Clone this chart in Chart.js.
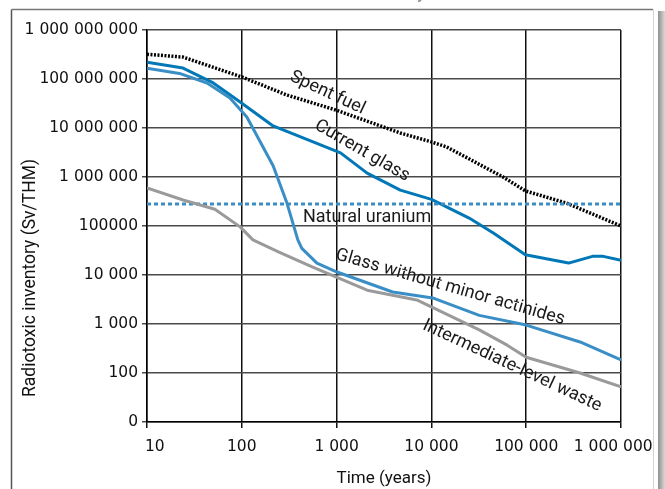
<!DOCTYPE html>
<html><head><meta charset="utf-8">
<script src="https://cdn.jsdelivr.net/npm/chart.js@4.4.0/dist/chart.umd.min.js"></script>
<style>html,body{margin:0;padding:0;background:#fff;}#wrap{position:relative;width:665px;height:489px;}</style>
</head><body><div id="wrap"><canvas id="c" width="665" height="489"></canvas></div>
<script>
const xTicks=[10,100,1000,10000,100000,1000000];
const xTickLabels=['\u2002\u200210','100','1 000','10 000','100 000','1 000 000\u2002\u2002'];
const yTicks=[10,100,1e3,1e4,1e5,1e6,1e7,1e8,1e9];
const yTickLabels=['0','100','1 000','10 000','100000','1 000 000','10 000 000','100 000 000','1 000 000 000'];

const spentT=[10,24,100,300,1000,4700,10000,14500,57000,98000,270000,1000000];
const spentV=[3.2e8,2.8e8,1.1e8,4.7e7,2.3e7,7.9e6,5.2e6,4.1e6,1e6,5.2e5,2.9e5,1e5];

const glassT=[10,24,50,96,214,565,1100,2100,4700,10000,25000,45000,98000,280000,500000,650000,1000000];
const glassV=[2.2e8,1.67e8,8.3e7,3.4e7,1.1e7,5.2e6,3.1e6,1.2e6,5.4e5,3.5e5,1.45e5,7.2e4,2.6e4,1.75e4,2.4e4,2.4e4,2.0e4];

const noMaT=[10,22,43,75,113,214,300,390,430,620,1010,3900,10300,32000,100000,370000,1000000];
const noMaV=[1.66e8,1.3e8,8.3e7,4.1e7,1.67e7,1.7e6,2.9e5,5.2e4,3.5e4,1.75e4,1.15e4,4500,3400,1500,950,430,185];

const ilwT=[10,24,52,96,131,250,560,2100,7000,32000,63000,100000,370000,1000000];
const ilwV=[6e5,3.4e5,2.2e5,9.6e4,5.2e4,2.9e4,1.45e4,4900,3100,760,370,210,100,52];

const uraniumT=[10,1000000];
const uraniumV=[2.8e5,2.8e5];

const seriesNames=['Spent fuel','Current glass','Natural uranium','Glass without minor actinides','Intermediate-level waste'];
const yTitle='Radiotoxic inventory (Sv/THM)';

function pts(t,v){return t.map((x,i)=>({x:x,y:v[i]}));}

const labelPlugin={
  id:'lineLabels',
  afterDatasetsDraw(chart){
    const ctx=chart.ctx, xs=chart.scales.x, ys=chart.scales.y;
    const items=[
      {text:seriesNames[0],t:800,v:5.2e7,a:25},
      {text:seriesNames[1],t:1860,v:3.4e6,a:30},
      {text:seriesNames[2],t:2100,v:1.5e5,a:0},
      {text:seriesNames[3],t:15800,v:5600,a:16},
      {text:seriesNames[4],t:71000,v:140,a:25}
    ];
    ctx.save();
    ctx.fillStyle='#1a1a1a';
    ctx.font='18px Roboto';
    ctx.textAlign='center';ctx.textBaseline='middle';
    items.forEach(it=>{
      const x=xs.getPixelForValue(it.t), y=ys.getPixelForValue(it.v);
      ctx.save();ctx.translate(x,y);ctx.rotate(it.a*Math.PI/180);
      ctx.fillText(it.text,0,0);ctx.restore();
    });
    ctx.save();ctx.translate(31,278);ctx.rotate(-Math.PI/2);
    ctx.font='17.5px Roboto';ctx.fillStyle='#111';
    ctx.fillText(yTitle,0,0);ctx.restore();
    ctx.restore();
  }
};

const framePlugin={
  id:'frame',
  beforeDraw(chart){
    const ctx=chart.ctx;
    ctx.save();
    ctx.fillStyle='#fff';ctx.fillRect(0,0,665,489);
    ctx.font='bold 16px Roboto';ctx.fillStyle='#999';ctx.textAlign='center';ctx.textBaseline='alphabetic';
    ctx.fillText('Evolution of radiotoxicity',336,-1);
    ctx.lineWidth=1.5;
    ctx.strokeStyle='#555';
    ctx.beginPath();ctx.moveTo(11.5,9.5);ctx.lineTo(11.5,489);ctx.stroke();
    ctx.strokeStyle='#777';
    ctx.beginPath();ctx.moveTo(11.5,9.5);ctx.lineTo(653,9.5);ctx.stroke();
    ctx.strokeStyle='#d4d4d4';ctx.lineWidth=1;
    ctx.beginPath();ctx.moveTo(653.5,9.5);ctx.lineTo(653.5,489);ctx.stroke();
    const g=ctx.createLinearGradient(658,0,665,0);
    g.addColorStop(0,'#8f8f8f');g.addColorStop(1,'#d8d8d8');
    ctx.fillStyle=g;ctx.fillRect(658,11,7,478);
    ctx.restore();
  }
};

const common={fill:false,tension:0,pointRadius:0,borderJoinStyle:'round'};
new Chart(document.getElementById('c'),{
  type:'line',
  data:{datasets:[
    Object.assign({label:seriesNames[4],data:pts(ilwT,ilwV),borderColor:'#9a9a9a',borderWidth:3},common),
    Object.assign({label:seriesNames[3],data:pts(noMaT,noMaV),borderColor:'#3a8ec6',borderWidth:3},common),
    Object.assign({label:seriesNames[2],data:pts(uraniumT,uraniumV),borderColor:'#3a8ec6',borderWidth:3,borderDash:[4,3],borderCapStyle:'butt'},common),
    Object.assign({label:seriesNames[1],data:pts(glassT,glassV),borderColor:'#0077b6',borderWidth:3},common),
    Object.assign({label:seriesNames[0],data:pts(spentT,spentV),borderColor:'#000',borderWidth:3.5,borderDash:[2,1.5],borderCapStyle:'butt'},common)
  ]},
  options:{
    responsive:false,animation:false,
    layout:{padding:{top:30,right:44,left:0,bottom:0}},
    plugins:{legend:{display:false},tooltip:{enabled:false}},
    scales:{
      x:{type:'logarithmic',min:10,max:1e6,
        afterBuildTicks:s=>{s.ticks=xTicks.map(v=>({value:v}));},
        afterFit:s=>{s.height=67;s.paddingLeft=0;s.paddingRight=0;},
        ticks:{callback:(v,i)=>xTickLabels[i],font:{family:'DejaVu Sans',size:15.5},color:'#111',maxRotation:0,minRotation:0,autoSkip:false,padding:10},
        grid:{color:'#111',lineWidth:1.5,tickLength:6,drawTicks:true},
        border:{color:'#000',width:1.5},
        title:{display:true,text:'Time (years)',font:{family:'Roboto',size:17},color:'#111',padding:{top:2,bottom:0}}
      },
      y:{type:'logarithmic',min:10,max:1e9,
        afterBuildTicks:s=>{s.ticks=yTicks.map(v=>({value:v}));},
        afterFit:s=>{s.width=147;s.paddingTop=0;s.paddingBottom=0;},
        ticks:{callback:(v,i)=>yTickLabels[i],font:{family:'DejaVu Sans',size:15.5},color:'#111',autoSkip:false,padding:4},
        grid:{color:'#4a4a4a',lineWidth:1.5,tickLength:5,drawTicks:true},
        border:{color:'#000',width:1.5},
        title:{display:false}
      }
    }
  },
  plugins:[framePlugin,labelPlugin]
});
</script></body></html>
